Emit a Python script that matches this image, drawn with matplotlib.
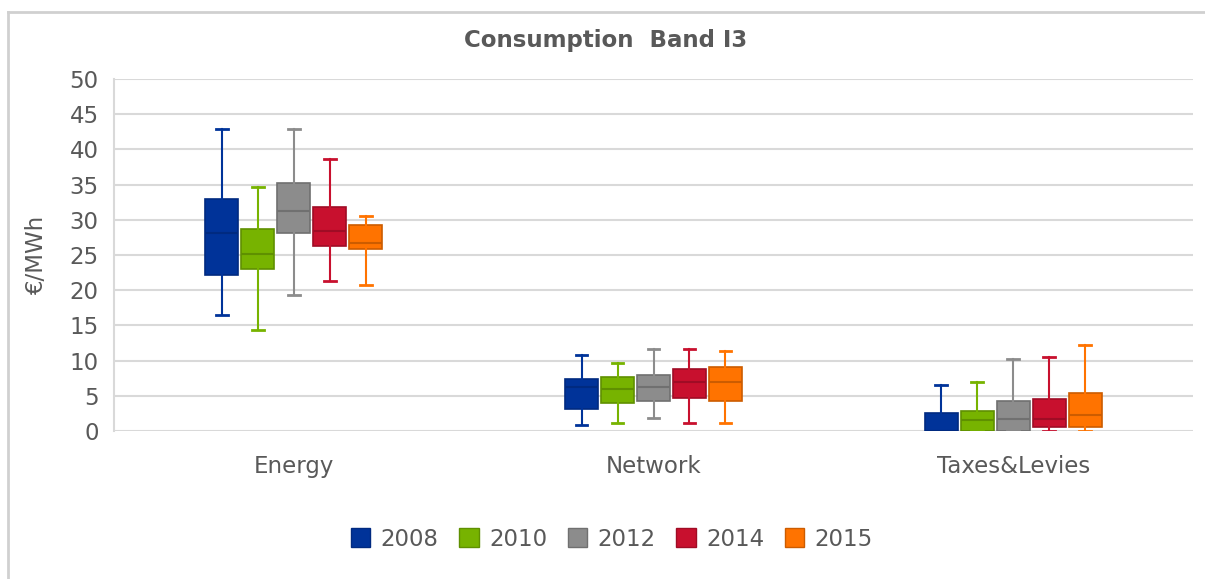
import matplotlib
matplotlib.use("Agg")
import matplotlib.pyplot as plt
from matplotlib.patches import Patch
from matplotlib.lines import Line2D

categories = ["Energy", "Network", "Taxes&Levies"]
years = ["2008", "2010", "2012", "2014", "2015"]
colors = ["#003399", "#77b300", "#8c8c8c", "#c8102e", "#ff7300"]
dark = ["#002a80", "#5f9000", "#707070", "#a00c25", "#cc5c00"]

# per year: one value per category (Energy, Network, Taxes&Levies)
whis_hi = {
    "2008": [42.9, 10.8, 6.5],
    "2010": [34.6, 9.6, 7.0],
    "2012": [42.9, 11.6, 10.2],
    "2014": [38.6, 11.6, 10.5],
    "2015": [30.6, 11.3, 12.2],
}
q3 = {
    "2008": [32.9, 7.4, 2.6],
    "2010": [28.7, 7.6, 2.9],
    "2012": [35.2, 8.0, 4.3],
    "2014": [31.8, 8.8, 4.5],
    "2015": [29.2, 9.1, 5.4],
}
median = {
    "2008": [28.1, 6.2, 0.0],
    "2010": [25.2, 5.9, 1.5],
    "2012": [31.2, 6.3, 1.7],
    "2014": [28.4, 6.9, 1.7],
    "2015": [26.7, 6.9, 2.3],
}
q1 = {
    "2008": [22.1, 3.1, 0.0],
    "2010": [23.0, 4.0, 0.0],
    "2012": [28.1, 4.3, 0.0],
    "2014": [26.3, 4.7, 0.5],
    "2015": [25.8, 4.3, 0.5],
}
whis_lo = {
    "2008": [16.5, 0.8, 0.0],
    "2010": [14.4, 1.1, 0.0],
    "2012": [19.3, 1.9, 0.0],
    "2014": [21.3, 1.1, 0.0],
    "2015": [20.7, 1.1, 0.0],
}

grey = "#595959"
fs = 16.5
plt.rcParams["font.family"] = ["DejaVu Sans"]

fig = plt.figure(figsize=(12.05, 5.79), dpi=100)
ax = fig.add_axes([114/1205, 1-431/579, (1193-114)/1205, (431-79)/579])

for i, y in enumerate(years):
    stats = []
    for j in range(len(categories)):
        stats.append(dict(med=median[y][j], q1=q1[y][j], q3=q3[y][j],
                          whislo=whis_lo[y][j], whishi=whis_hi[y][j], fliers=[]))
    pos = [j + (i - 2) * 0.1 for j in range(len(categories))]
    ax.bxp(stats, positions=pos, widths=0.092, patch_artist=True, showfliers=False,
           capwidths=0.032,
           boxprops=dict(facecolor=colors[i], edgecolor=dark[i], linewidth=1.2),
           medianprops=dict(color=dark[i], linewidth=1.5),
           whiskerprops=dict(color=colors[i], linewidth=1.5),
           capprops=dict(color=colors[i], linewidth=2),
           zorder=3)

ax.set_xlim(-0.5, 2.5)
ax.set_ylim(0, 50)
ax.set_yticks(range(0, 51, 5))
ax.set_xticks(range(len(categories)))
ax.set_xticklabels(categories)
ax.tick_params(axis="both", length=0, labelsize=fs, labelcolor=grey)
ax.tick_params(axis="y", pad=11)
ax.tick_params(axis="x", pad=17)
ax.grid(axis="y", color="#d9d9d9", linewidth=1.5, zorder=0)
ax.set_axisbelow(True)
for s in ["top", "right", "bottom"]:
    ax.spines[s].set_visible(False)
ax.spines["left"].set_color("#d9d9d9")
ax.spines["left"].set_linewidth(1.5)

fig.text(37/1205, 1-255/579, "€/MWh", rotation=90, ha="center", va="center",
         fontsize=fs, color=grey)
fig.text(606/1205, 1-40/579, "Consumption  Band I3", ha="center", va="center",
         fontsize=fs, color=grey, fontweight="bold")

handles = [Patch(facecolor=c, edgecolor=d, linewidth=1) for c, d in zip(colors, dark)]
fig.legend(handles, years, loc="center", bbox_to_anchor=(612/1205, 1-539/579),
           ncol=5, frameon=False, fontsize=fs, labelcolor=grey,
           handlelength=0.85, handleheight=0.85, handletextpad=0.45,
           columnspacing=0.9)

# chart frame
fx = 8/1205
fy = 1-12/579
fig.add_artist(Line2D([fx, fx], [0, fy], color="#d0d0d0", linewidth=2))
fig.add_artist(Line2D([fx, 1], [fy, fy], color="#d0d0d0", linewidth=2))

fig.savefig("out.png", dpi=100)
